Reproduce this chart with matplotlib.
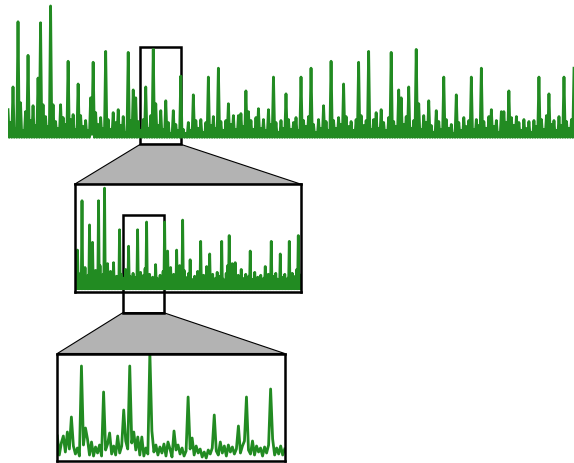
import numpy as np
import matplotlib.pyplot as plt
from matplotlib.patches import Rectangle, Polygon

# série du haut (vue complète)
serie_haut = [
    2.8, 0.0, 1.5, 0.0, 5.1, 0.0, 0.9, 0.0, 11.7, 0.0, 3.5, 0.0, 0.7, 0.0, 2.6, 0.0, 8.3, 0.0, 1.7, 0.0,
    3.2, 0.0, 1.2, 0.0, 6.0, 0.0, 11.6, 0.0, 3.3, 0.0, 2.1, 0.0, 1.1, 0.0, 13.3, 0.0, 3.3, 0.0, 1.6, 0.0,
    0.9, 0.0, 3.3, 0.0, 2.0, 0.0, 1.3, 0.0, 7.7, 0.0, 1.8, 0.0, 2.3, 0.0, 0.8, 0.0, 5.4, 0.0, 2.2, 0.0,
    1.1, 0.0, 1.7, 0.0, 0.7, 0.0, 4.0, 0.3, 7.6, 0.0, 2.5, 0.0, 1.3, 0.0, 2.0, 0.0, 0.9, 0.0, 8.7, 0.0,
    1.8, 0.0, 0.8, 0.0, 2.5, 0.0, 1.5, 0.0, 2.8, 0.0, 1.2, 0.0, 2.1, 0.0, 0.5, 0.0, 8.6, 0.0, 1.7, 0.0,
    4.8, 0.0, 4.0, 0.0, 1.6, 0.0, 0.7, 0.0, 1.8, 0.0, 5.1, 0.0, 0.9, 0.0, 2.2, 0.0, 8.9, 0.0, 3.4, 0.0,
    1.2, 0.0, 2.7, 0.0, 0.8, 0.0, 3.7, 0.0, 1.5, 0.0, 0.4, 0.0, 2.7, 0.0, 1.3, 0.0, 0.7, 0.0, 6.2, 0.0,
    0.8, 0.0, 0.4, 0.0, 1.5, 0.0, 0.7, 0.0, 4.3, 0.0, 1.7, 0.0, 0.9, 0.0, 1.8, 0.0, 0.5, 0.0, 1.5, 0.0,
    6.1, 0.0, 1.2, 0.0, 2.1, 0.0, 0.9, 0.0, 7.0, 0.0, 1.6, 0.0, 0.7, 0.0, 1.7, 0.0, 3.4, 0.0, 1.3, 0.0,
    2.2, 0.0, 0.8, 0.0, 2.2, 0.0, 2.4, 0.0, 1.1, 0.0, 4.7, 0.0, 2.6, 0.0, 1.7, 0.0, 0.8, 0.0, 2.0, 0.0,
    2.9, 0.0, 0.9, 0.0, 1.8, 0.0, 0.7, 0.0, 2.8, 0.0, 1.3, 0.0, 6.1, 0.0, 1.5, 0.0, 0.5, 0.0, 1.7, 0.0,
    0.9, 0.0, 4.4, 0.0, 1.8, 0.0, 0.8, 0.0, 1.5, 0.0, 2.0, 0.0, 0.7, 0.0, 6.1, 0.0, 1.7, 0.0, 1.1, 0.0,
    2.1, 0.0, 7.0, 0.0, 1.3, 0.0, 0.5, 0.0, 1.8, 0.0, 0.9, 0.0, 3.2, 0.0, 1.6, 0.0, 0.7, 0.0, 7.7, 0.0,
    1.7, 0.0, 0.9, 0.0, 2.0, 0.0, 1.3, 0.0, 5.4, 0.0, 2.1, 0.0, 1.1, 0.0, 1.6, 0.0, 0.7, 0.0, 1.8, 0.0,
    7.6, 0.0, 2.2, 0.0, 1.2, 0.0, 1.7, 0.0, 8.7, 0.0, 0.8, 0.0, 1.8, 0.0, 2.5, 0.0, 0.9, 0.0, 2.8, 0.0,
    1.5, 0.0, 0.7, 0.0, 2.0, 0.0, 8.6, 0.0, 1.6, 0.0, 1.1, 0.0, 4.8, 0.0, 4.0, 0.0, 1.3, 0.0, 2.1, 0.0,
    5.1, 0.0, 0.9, 0.0, 1.7, 0.0, 8.9, 0.0, 3.4, 0.0, 0.8, 0.0, 2.2, 0.0, 1.5, 0.0, 3.7, 0.0, 1.2, 0.0,
    0.5, 0.0, 2.7, 0.0, 1.6, 0.0, 0.8, 0.0, 6.1, 0.0, 1.8, 0.0, 0.9, 0.0, 1.3, 0.0, 0.4, 0.0, 4.3, 0.0,
    1.5, 0.0, 0.7, 0.0, 2.0, 0.0, 1.1, 0.0, 1.7, 0.0, 6.1, 0.0, 0.8, 0.0, 1.8, 0.0, 1.2, 0.0, 7.0, 0.0,
    1.6, 0.0, 0.9, 0.0, 2.1, 0.0, 2.8, 0.0, 1.1, 0.0, 1.7, 0.0, 0.5, 0.0, 2.6, 0.0, 2.6, 0.0, 1.5, 0.0,
    4.7, 0.0, 2.0, 0.0, 1.2, 0.0, 2.1, 0.0, 1.5, 0.0, 0.7, 0.0, 1.8, 0.0, 0.9, 0.0, 1.6, 0.0, 0.5, 0.0,
    1.7, 0.0, 1.1, 0.0, 6.1, 0.0, 1.8, 0.0, 0.8, 0.0, 2.2, 0.0, 4.4, 0.0, 1.3, 0.0, 1.7, 0.0, 0.7, 0.0,
    2.1, 0.0, 1.2, 0.0, 6.1, 0.0, 1.6, 0.0, 0.9, 0.0, 1.8, 0.0, 7.0,
]

# série du milieu (premier zoom)
serie_milieu = [
    2.5, 0.0, 1.2, 0.0, 4.0, 0.0, 0.8, 0.0, 1.6, 0.0, 9.1, 0.0, 1.0, 0.0, 2.2, 0.0, 0.6, 0.0, 1.4, 0.0,
    6.6, 0.0, 1.1, 0.0, 4.8, 0.0, 0.7, 0.0, 1.9, 0.0, 1.3, 0.0, 9.1, 0.0, 2.4, 0.0, 0.9, 0.0, 1.5, 0.0,
    10.4, 0.0, 1.2, 0.0, 2.6, 0.0, 0.5, 0.0, 1.8, 0.0, 1.0, 0.0, 2.7, 0.0, 0.6, 0.0, 1.3, 0.0, 0.9, 0.0,
    6.1, 0.0, 1.5, 0.0, 0.4, 0.0, 1.1, 0.0, 2.0, 0.0, 0.7, 0.0, 4.4, 0.0, 1.3, 0.0, 0.5, 0.0, 1.6, 0.0,
    0.9, 0.0, 1.2, 0.0, 6.1, 0.0, 0.8, 0.0, 1.7, 0.0, 0.6, 0.0, 1.4, 0.0, 2.1, 0.0, 6.9, 0.0, 1.0, 0.0,
    1.5, 0.0, 0.4, 0.0, 1.2, 0.0, 0.7, 0.0, 2.5, 0.0, 1.1, 0.0, 0.3, 0.0, 1.4, 0.0, 0.8, 0.0, 1.8, 0.0,
    6.9, 0.0, 2.8, 0.0, 3.9, 0.0, 1.6, 0.0, 2.2, 0.0, 0.9, 0.0, 1.5, 0.0, 0.6, 0.0, 4.0, 0.0, 1.3, 0.0,
    2.4, 0.0, 0.8, 0.0, 7.1, 0.0, 1.9, 0.0, 1.2, 0.0, 0.5, 0.0, 1.6, 0.0, 3.0, 0.0, 1.0, 0.0, 0.4, 0.0,
    1.3, 0.0, 0.7, 0.0, 1.8, 0.0, 1.1, 0.0, 4.9, 0.0, 0.6, 0.0, 1.4, 0.0, 0.9, 0.0, 2.3, 0.0, 1.2, 0.0,
    3.6, 0.0, 0.8, 0.0, 1.5, 0.0, 0.5, 0.0, 1.1, 0.0, 1.7, 0.0, 0.6, 0.0, 1.3, 0.0, 4.9, 0.0, 1.0, 0.0,
    0.4, 0.0, 1.6, 0.0, 2.4, 0.0, 5.5, 0.0, 1.2, 0.0, 2.6, 0.0, 1.9, 0.0, 2.7, 0.0, 0.8, 0.0, 1.4, 0.0,
    0.5, 0.0, 2.0, 0.0, 1.1, 0.0, 0.6, 0.0, 1.5, 0.0, 0.9, 0.0, 1.3, 0.0, 3.9, 0.0, 1.0, 0.0, 0.4, 0.0,
    1.7, 0.0, 0.8, 0.0, 1.2, 0.0, 0.5, 0.0, 1.4, 0.0, 0.7, 0.0, 1.1, 0.0, 2.3, 0.0, 0.6, 0.0, 1.5, 0.0,
    0.9, 0.0, 4.9, 0.0, 1.3, 0.0, 0.6, 0.0, 1.6, 0.0, 1.0, 0.0, 0.4, 0.0, 3.6, 0.0, 1.2, 0.0, 0.8, 0.0,
    1.5, 0.0, 0.5, 0.0, 1.1, 0.0, 4.9, 0.0, 0.9, 0.0, 1.6, 0.0, 0.6, 0.0, 1.3, 0.0, 2.0, 0.0, 5.5, 0.0,
    0.8, 0.0, 1.4,
]

# série du bas (second zoom)
serie_bas = [
    2.5, 0.6, 1.8, 2.5, 0.9, 2.9, 1.2, 4.4, 1.5, 0.7,
    1.3, 0.5, 9.5, 1.6, 3.3, 2.2, 0.6, 1.9, 0.5, 1.4,
    0.8, 1.6, 0.5, 6.9, 1.1, 1.7, 2.8, 0.7, 1.5, 0.6,
    2.5, 0.8, 1.5, 5.1, 2.0, 1.2, 9.5, 1.8, 2.9, 1.1,
    2.4, 0.6, 2.4, 0.5, 1.3, 0.7, 10.8, 3.0, 0.9, 1.6,
    0.6, 1.4, 0.8, 1.7, 0.5, 1.9, 1.2, 0.4, 3.0, 1.1,
    1.6, 0.7, 1.3, 0.5, 1.0, 6.4, 1.2, 2.3, 0.6, 1.5,
    0.8, 1.2, 0.4, 0.9, 0.3, 1.1, 0.7, 1.3, 4.6, 1.0,
    0.6, 1.9, 0.8, 1.5, 0.5, 1.6, 0.9, 1.4, 0.7, 1.2,
    3.5, 0.8, 1.5, 2.0, 6.4, 1.1, 0.7, 2.0, 0.6, 1.5,
    0.9, 1.3, 0.5, 1.4, 0.8, 1.6, 7.2, 2.2, 0.6, 1.3,
    0.7, 1.5, 0.6, 1.2,
]

W, H = 574, 464
vert = 'forestgreen'
gris = '#b3b3b3'


def fx(x):
    # pixel -> fraction de la figure (horizontal)
    return x / W


def fy(y):
    # pixel (depuis le haut) -> fraction de la figure (vertical)
    return 1 - y / H


def boite(x0, y0, x1, y1):
    # [left, bottom, width, height] en fraction de figure
    return [fx(x0), fy(y1), fx(x1) - fx(x0), fy(y0) - fy(y1)]


fig = plt.figure(figsize=(5.74, 4.64), dpi=100)

# 1. vue complète, sans cadre
ax1 = fig.add_axes(boite(8, 5, 574, 140))
ax1.plot(np.arange(len(serie_haut)), serie_haut, color=vert, linewidth=2)
ax1.set_xlim(0, len(serie_haut) - 1)
ax1.set_ylim(-0.17, 13.5)
ax1.axis('off')

# 2. premier zoom
ax2 = fig.add_axes(boite(74.5, 185.3, 301.3, 292.7))
ax2.plot(np.arange(len(serie_milieu)), serie_milieu, color=vert, linewidth=2)
ax2.set_xlim(0, len(serie_milieu) - 1)
ax2.set_ylim(-0.3, 10.8)

# 3. second zoom
ax3 = fig.add_axes(boite(57.3, 354.5, 284.7, 462))
ax3.plot(np.arange(len(serie_bas)), serie_bas, color=vert, linewidth=2)
ax3.set_xlim(0, len(serie_bas) - 1)
ax3.set_ylim(0, 10.75)

for ax in (ax2, ax3):
    ax.set_xticks([])
    ax.set_yticks([])
    for s in ax.spines.values():
        s.set_linewidth(1.8)
        s.set_color('black')

# rectangles de sélection (sous la courbe)
for ax, (x0, y0) in ((ax1, (140.3, 47.7)), (ax2, (123, 216))):
    x1, y1 = x0 + 40.5, y0 + 97.6
    r = Rectangle((fx(x0), fy(y1)), fx(x1) - fx(x0), fy(y0) - fy(y1),
                  transform=fig.transFigure, fill=False, edgecolor='black',
                  linewidth=1.8, clip_on=False, zorder=1)
    ax.add_patch(r)

# trapèzes gris qui relient la sélection au panneau suivant
trapezes = [
    [(140.3, 145.3), (180.8, 145.3), (301.3, 185.3), (74.5, 185.3)],
    [(123, 313.6), (163.5, 313.6), (284.7, 354.5), (57.3, 354.5)],
]
for pts in trapezes:
    poly = Polygon([(fx(x), fy(y)) for x, y in pts], closed=True,
                   transform=fig.transFigure, facecolor=gris,
                   edgecolor='black', linewidth=0.8, zorder=-1)
    fig.add_artist(poly)

fig.savefig('out.png', dpi=100)
